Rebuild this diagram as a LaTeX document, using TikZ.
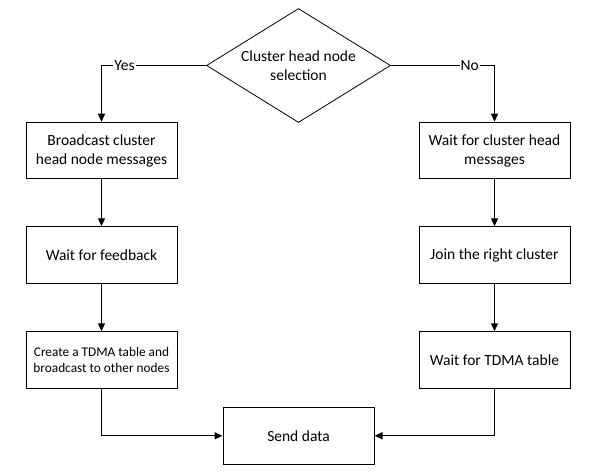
\documentclass[tikz,border=0pt]{standalone}
\usepackage{fontspec}
\setmainfont{Carlito}
\usetikzlibrary{shapes.geometric,arrows.meta}
\tikzset{
  stepbox/.style={draw, line width=1pt, minimum width=151bp, minimum height=56.5bp, inner sep=2pt, align=center, font=\fontsize{15.5bp}{19bp}\selectfont},
  smallbox/.style={stepbox, font=\fontsize{13.3bp}{16.7bp}\selectfont},
  decision/.style={draw, diamond, aspect=1.614, line width=0.8pt, minimum width=184bp, minimum height=114bp, inner sep=0pt, align=center, font=\fontsize{15.5bp}{19bp}\selectfont},
  conn/.style={line width=1.3pt, -{Triangle[length=8bp,width=7bp]}},
  answer/.style={fill=white, inner sep=1pt, font=\fontsize{15.5bp}{19bp}\selectfont}
}
\begin{document}
\begin{tikzpicture}[x=1bp,y=-1bp]
        \useasboundingbox (0,0) rectangle (590,476);
        % decision
        \node[decision] (sel) at (298.5,65.5) {Cluster head node\\selection};

        % yes branch
        \node[stepbox] (bcast) at (101.5,150.5) {Broadcast cluster\\head node messages};
        \node[stepbox] (fback) at (101.5,255) {Wait for feedback};
        \node[smallbox] (tdma) at (101.5,360) {Create a TDMA table and\\broadcast to other nodes};

        % no branch
        \node[stepbox] (waitch) at (494.5,150.5) {Wait for cluster head\\messages};
        \node[stepbox] (join) at (494.5,255) {Join the right cluster};
        \node[stepbox] (waittdma) at (494.5,360) {Wait for TDMA table};

        % end
        \node[stepbox] (send) at (298.5,435.8) {Send data};

        % arrows
        \draw[conn] (sel.west) -| node[answer, pos=0.39] {Yes} (bcast.north);
        \draw[conn] (sel.east) -| node[answer, pos=0.38] {No} (waitch.north);
        \draw[conn] (bcast) -- (fback);
        \draw[conn] (fback) -- (tdma);
        \draw[conn] (waitch) -- (join);
        \draw[conn] (join) -- (waittdma);
        \draw[conn] (tdma.south) |- (send.west);
        \draw[conn] (waittdma.south) |- (send.east);
    \end{tikzpicture}
\end{document}
